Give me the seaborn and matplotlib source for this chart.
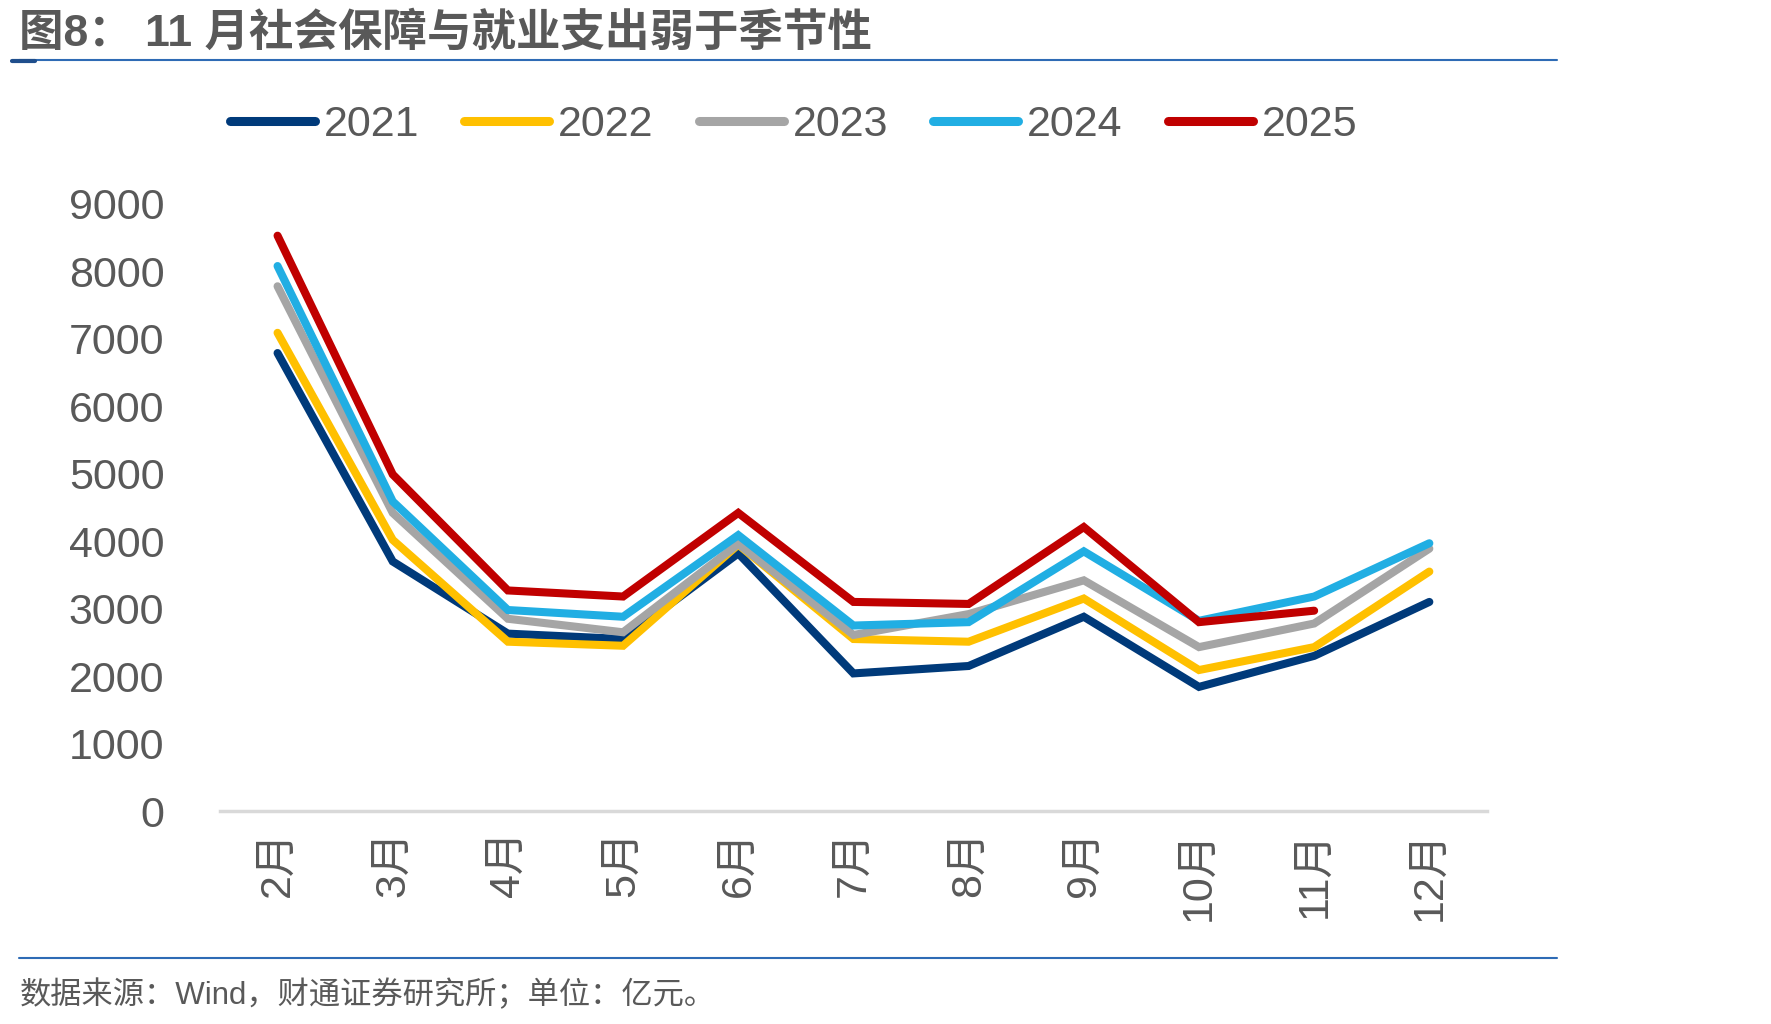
import matplotlib
matplotlib.use("Agg")
import matplotlib.pyplot as plt
import seaborn as sns
import pandas as pd
from matplotlib.lines import Line2D

months = ["2月", "3月", "4月", "5月", "6月", "7月", "8月", "9月", "10月", "11月", "12月"]
years = ["2021", "2022", "2023", "2024", "2025"]
v2021 = [6790, 3700, 2630, 2550, 3820, 2040, 2150, 2880, 1840, 2300, 3100]
v2022 = [7090, 4020, 2510, 2450, 3950, 2550, 2510, 3150, 2090, 2430, 3550]
v2023 = [7780, 4420, 2850, 2650, 3960, 2610, 2920, 3420, 2430, 2780, 3890]
v2024 = [8080, 4590, 2980, 2880, 4090, 2750, 2800, 3850, 2820, 3180, 3970]
v2025 = [8530, 4990, 3270, 3180, 4420, 3100, 3070, 4210, 2800, 2970]
colors = ["#003A7A", "#FFC000", "#A5A5A5", "#21AEE3", "#C00000"]

series = [v2021, v2022, v2023, v2024, v2025]
rows = []
for y, vals in zip(years, series):
    for m, v in zip(months, vals):
        rows.append({"month": m, "value": v, "year": y})
df = pd.DataFrame(rows)

sns.set_theme(style="white")
plt.rcParams["font.family"] = ["Liberation Sans", "Noto Sans CJK SC", "DejaVu Sans"]
text_color = "#595959"

fig = plt.figure(figsize=(17.71, 10.24), dpi=100)
ax = fig.add_axes([0.1242, 0.208, 0.7154, 0.5928])

sns.lineplot(data=df, x="month", y="value", hue="year", palette=colors,
             linewidth=5.8, ax=ax, legend=False, sort=False,
             solid_capstyle="round", solid_joinstyle="miter")

ax.set_xlim(-0.5, 10.5)
ax.set_ylim(0, 9000)
ax.set_yticks(range(0, 9001, 1000))
ax.set_xlabel("")
ax.set_ylabel("")
for s in ["top", "right", "left"]:
    ax.spines[s].set_visible(False)
ax.spines["bottom"].set_color("#D9D9D9")
ax.spines["bottom"].set_linewidth(2.5)
ax.tick_params(axis="y", labelsize=31, labelcolor=text_color, length=0, pad=40)
ax.tick_params(axis="x", labelsize=31, labelcolor=text_color, length=0, pad=14,
               labelrotation=90)
ax.grid(False)

handles = [Line2D([0], [0], color=c, linewidth=6.5, solid_capstyle="round") for c in colors]
fig.legend(handles, years, loc="center", bbox_to_anchor=(0.448, 0.878), ncol=5,
           frameon=False, fontsize=31, handlelength=1.98, handletextpad=0.2,
           columnspacing=1.05, labelcolor=text_color)

fig.text(0.011, 0.968, "图8： 11 月社会保障与就业支出弱于季节性", fontsize=32,
         fontweight="bold", color=text_color, va="center", ha="left")
fig.add_artist(Line2D([0.011, 0.879], [0.941, 0.941], color="#2E6BB5", linewidth=1.5))
fig.add_artist(Line2D([0.007, 0.020], [0.940, 0.940], color="#1F4E8C", linewidth=3))
fig.add_artist(Line2D([0.011, 0.879], [0.064, 0.064], color="#2E6BB5", linewidth=1.5))
fig.text(0.011, 0.028, "数据来源：Wind，财通证券研究所；单位：亿元。", fontsize=22.5,
         color=text_color, va="center", ha="left")

fig.savefig("out.png", dpi=100, facecolor="white")
